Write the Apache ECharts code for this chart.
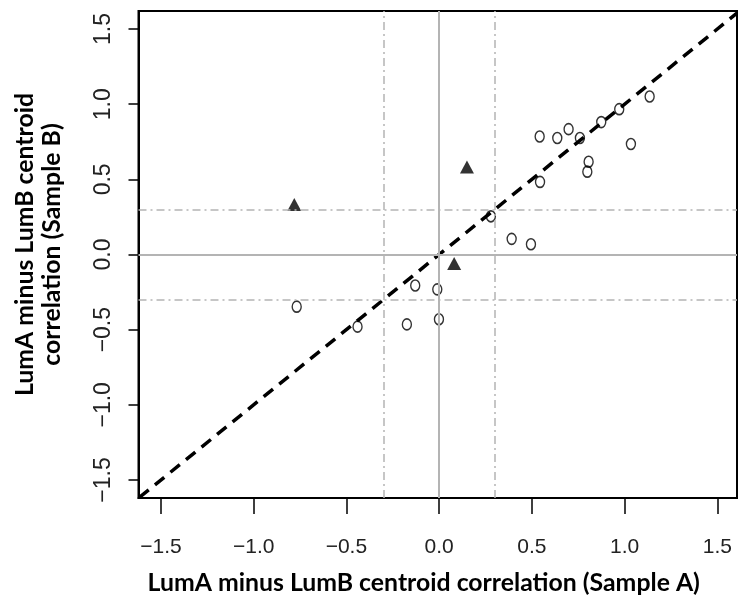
<!DOCTYPE html>
<html><head><meta charset="utf-8">
<script src="https://cdn.jsdelivr.net/npm/echarts@6/dist/echarts.min.js"></script>
<style>html,body{margin:0;padding:0;background:#fff}#c{width:738px;height:601px}</style>
</head><body><div id="c"></div>
<script>
const xTicks = [-1.5, -1, -0.5, 0, 0.5, 1, 1.5];
const yTicks = [-1.5, -1, -0.5, 0, 0.5, 1, 1.5];
const circleX = [0.542, 0.637, 0.698, 0.759, 0.874, 0.971, 1.135, 1.034, 0.806, 0.799, 0.544, -0.768, -0.440, -0.129, -0.174, 0.279, 0.391, 0.495, -0.010, -0.001];
const circleY = [0.785, 0.775, 0.834, 0.775, 0.881, 0.967, 1.051, 0.735, 0.617, 0.551, 0.483, -0.347, -0.480, -0.206, -0.465, 0.254, 0.104, 0.068, -0.232, -0.431];
const triX = [0.150, -0.781, 0.081];
const triY = [0.582, 0.333, -0.060];
const cutoffs = [-0.3, 0.3];
const diagonal = [-1.7, 1.7];
const xTitle = 'LumA minus LumB centroid correlation (Sample A)';
const yTitle = 'LumA minus LumB centroid\ncorrelation (Sample B)';

const fmt = v => v.toFixed(1).replace('-', '\u2212');
const chart = echarts.init(document.getElementById('c'), null, {renderer: 'canvas'});
const grey = '#b4b4b4';
const markData = [];
cutoffs.forEach(c => {
  markData.push({xAxis: c, lineStyle: {color: grey, width: 1.5, type: [8, 4, 2, 4]}});
  markData.push({yAxis: c, lineStyle: {color: grey, width: 1.5, type: [8, 4, 2, 4]}});
});
markData.push({xAxis: 0, lineStyle: {color: grey, width: 2, type: 'solid'}});
markData.push({yAxis: 0, lineStyle: {color: grey, width: 2, type: 'solid'}});

chart.setOption({
  animation: false,
  backgroundColor: '#fff',
  grid: {left: 138.5, top: 11, width: 598.5, height: 488, show: true, borderColor: '#000', borderWidth: 2, backgroundColor: 'transparent'},
  xAxis: {
    type: 'value', min: -1.621, max: 1.606,
    splitLine: {show: false},
    axisLine: {show: true, onZero: false, lineStyle: {color: '#000', width: 2}},
    axisTick: {show: true, length: 16, customValues: xTicks, lineStyle: {color: '#000', width: 1.5}},
    axisLabel: {customValues: xTicks, formatter: fmt, margin: 39, color: '#222', fontSize: 21, fontFamily: 'Liberation Sans, Arial, sans-serif'},
    name: xTitle, nameLocation: 'middle', nameGap: 73,
    nameTextStyle: {fontFamily: 'Lato, sans-serif', fontWeight: 'bold', fontSize: 24.8, color: '#000', padding: [0, 28, 0, 0]}
  },
  yAxis: {
    type: 'value', min: -1.62, max: 1.62,
    splitLine: {show: false},
    axisLine: {show: true, onZero: false, lineStyle: {color: '#000', width: 2}},
    axisTick: {show: true, length: 10, customValues: yTicks, lineStyle: {color: '#000', width: 1.5}},
    axisLabel: {customValues: yTicks, formatter: fmt, rotate: 90, margin: 23, color: '#222', fontSize: 23, fontFamily: 'Liberation Sans, Arial, sans-serif'},
    name: yTitle, nameLocation: 'middle', nameGap: 73, nameRotate: 90,
    nameTextStyle: {fontFamily: 'Lato, sans-serif', fontWeight: 'bold', fontSize: 24.8, lineHeight: 27, color: '#000', padding: [0, 0, 0, 20]}
  },
  series: [
    {
      type: 'line', data: [], silent: true,
      markLine: {silent: true, symbol: ['none', 'none'], label: {show: false}, animation: false, data: markData}
    },
    {
      type: 'line', data: [[diagonal[0], diagonal[0]], [diagonal[1], diagonal[1]]], showSymbol: false, symbol: 'none', clip: true, silent: true,
      lineStyle: {color: '#000', width: 3.5, type: [12, 8]}, z: 3
    },
    {
      type: 'scatter', data: circleX.map((x, i) => [x, circleY[i]]), symbol: 'circle', symbolSize: [9, 11],
      itemStyle: {color: 'rgba(255,255,255,0)', borderColor: '#000', borderWidth: 1.5}, z: 4
    },
    {
      type: 'scatter', data: triX.map((x, i) => [x, triY[i]]), symbol: 'triangle', symbolSize: [14, 13],
      itemStyle: {color: '#000'}, z: 4
    }
  ]
});
</script></body></html>
